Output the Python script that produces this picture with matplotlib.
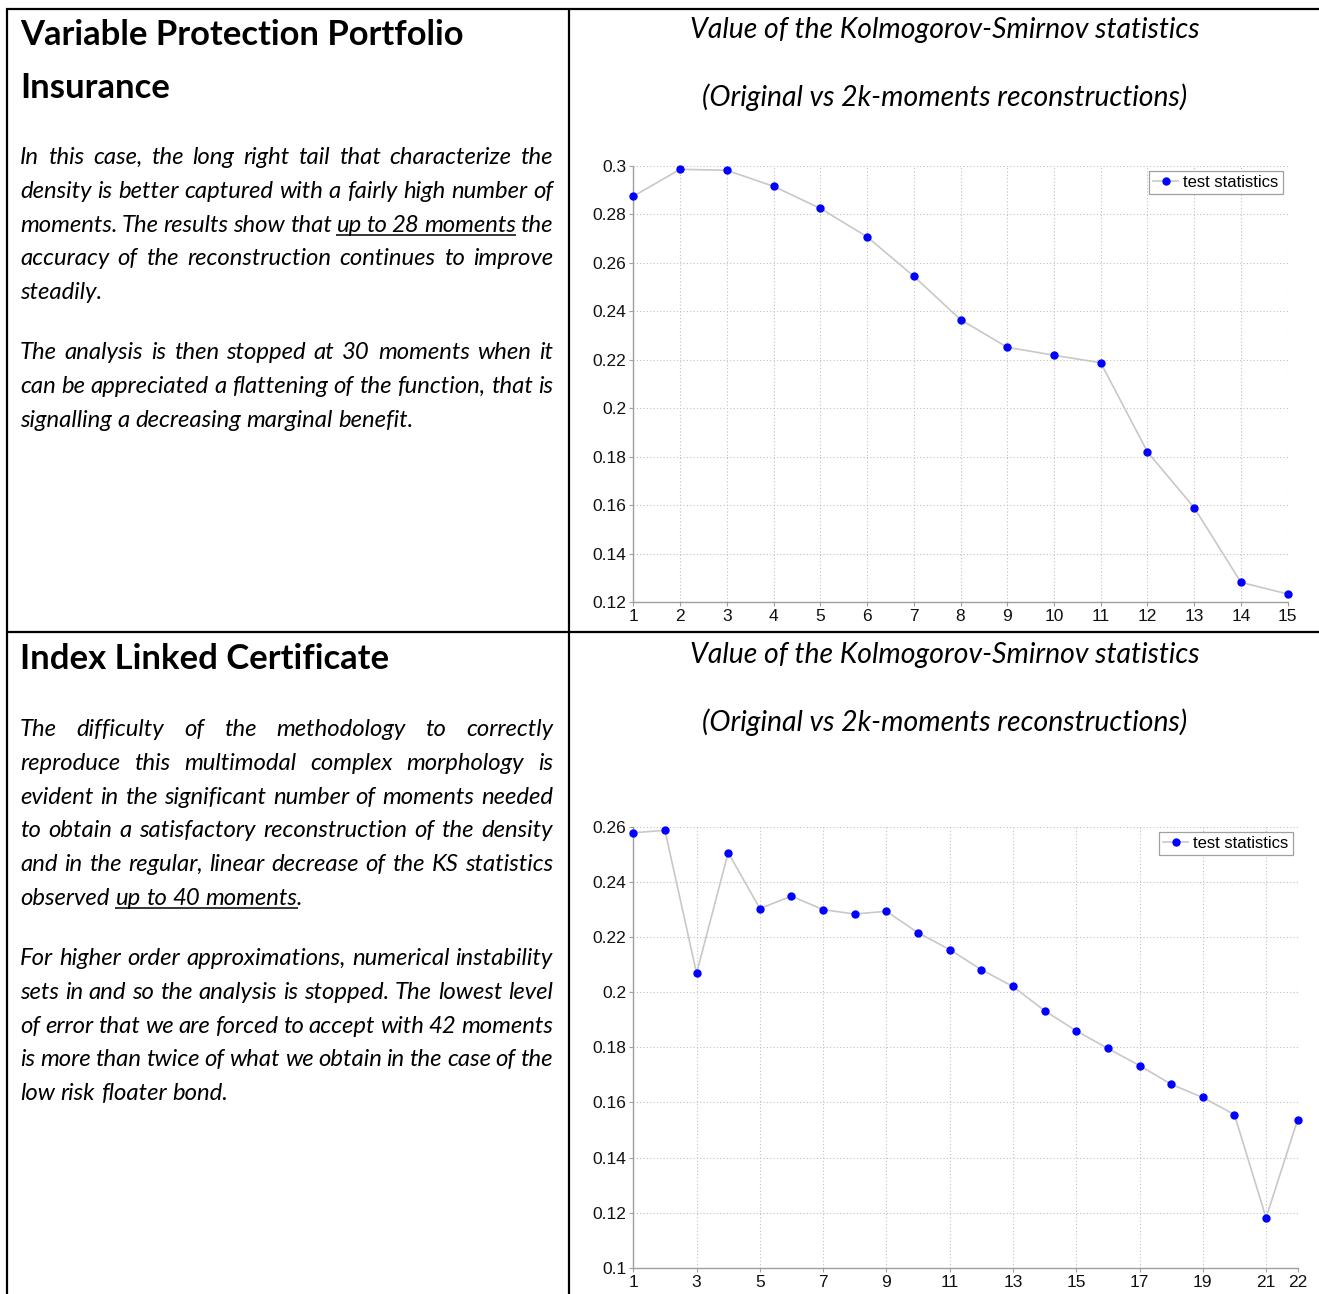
import matplotlib
matplotlib.use("Agg")
import matplotlib.pyplot as plt
from matplotlib.ticker import FuncFormatter

# ---------------- data ----------------
vppi_moments = list(range(1, 16))
vppi_ks = [0.2874, 0.2985, 0.2981, 0.2915, 0.2824, 0.2707, 0.2544, 0.2365,
           0.2251, 0.2218, 0.2187, 0.1819, 0.1589, 0.1281, 0.1233]
vppi_xticks = list(range(1, 16))
vppi_yticks = [0.12, 0.14, 0.16, 0.18, 0.20, 0.22, 0.24, 0.26, 0.28, 0.30]

ilc_moments = list(range(1, 23))
ilc_ks = [0.2579, 0.2588, 0.2069, 0.2507, 0.2304, 0.2349, 0.2300, 0.2284,
          0.2294, 0.2216, 0.2155, 0.2082, 0.2021, 0.1933, 0.1860, 0.1796,
          0.1734, 0.1666, 0.1618, 0.1556, 0.1181, 0.1538]
ilc_xticks = [1, 3, 5, 7, 9, 11, 13, 15, 17, 19, 21, 22]
ilc_yticks = [0.10, 0.12, 0.14, 0.16, 0.18, 0.20, 0.22, 0.24, 0.26]

series_label = "test statistics"
chart_title_1 = "Value of the Kolmogorov-Smirnov statistics"
chart_title_2 = "(Original vs 2k-moments reconstructions)"

head_top = ["Variable Protection Portfolio", "Insurance"]
body_top = [
    ("In this case, the long right tail that characterize the", True, None),
    ("density is better captured with a fairly high number of", True, None),
    ("moments. The results show that up to 28 moments the", True, "up to 28 moments"),
    ("accuracy of the reconstruction continues to improve", True, None),
    ("steadily.", False, None),
    None,
    ("The analysis is then stopped at 30 moments when it", True, None),
    ("can be appreciated a flattening of the function, that is", True, None),
    ("signalling a decreasing marginal benefit.", False, None),
]
head_bot = ["Index Linked Certificate"]
body_bot = [
    ("The difficulty of the methodology to correctly", True, None),
    ("reproduce this multimodal complex morphology is", True, None),
    ("evident in the significant number of moments needed", True, None),
    ("to obtain a satisfactory reconstruction of the density", True, None),
    ("and in the regular, linear decrease of the KS statistics", True, None),
    ("observed up to 40 moments.", False, "up to 40 moments"),
    None,
    ("For higher order approximations, numerical instability", True, None),
    ("sets in and so the analysis is stopped. The lowest level", True, None),
    ("of error that we are forced to accept with 42 moments", True, None),
    ("is more than twice of what we obtain in the case of the", True, None),
    ("low risk floater bond.", False, None),
]

# ---------------- figure ----------------
W, H = 1319, 1294
fig = plt.figure(figsize=(W / 100, H / 100), dpi=100)
fig.patch.set_facecolor("white")
bg = fig.add_axes([0, 0, 1, 1])
bg.set_xlim(0, W)
bg.set_ylim(H, 0)
bg.axis("off")
renderer = fig.canvas.get_renderer()

TXT = "Lato"
TICK = "Liberation Sans"


def tw(s, **kw):
    t = bg.text(0, 0, s, **kw)
    w = t.get_window_extent(renderer).width
    t.remove()
    return w


def fit(s, target, **kw):
    return 20 * target / tw(s, fontsize=20, **kw)


ital = dict(family=TXT, style="italic")
bold = dict(family=TXT, weight="bold")
fs_body = fit("signalling a decreasing marginal benefit.", 394, **ital)
fs_head = fit("Variable Protection Portfolio", 445, **bold)
fs_title = fit(chart_title_1, 509, **ital)


def body_line(text, y, justify, ul, x0=20, x1=553):
    kw = dict(fontsize=fs_body, va="baseline", ha="left", color="black", **ital)
    words = text.split(" ")
    ws = [tw(w, **kw) for w in words]
    if justify and len(words) > 1:
        gap = (x1 - x0 - sum(ws)) / (len(words) - 1)
    else:
        gap = tw("a b", **kw) - tw("ab", **kw)
    x = x0
    pos = []
    for w, wd in zip(words, ws):
        bg.text(x, y, w, **kw)
        pos.append(x)
        x += wd + gap
    if ul:
        uw = ul.split(" ")
        for i in range(len(words)):
            if words[i:i + len(uw) - 1] == uw[:-1] and words[i + len(uw) - 1].startswith(uw[-1]):
                xs = pos[i]
                j = i + len(uw) - 1
                xe = pos[j] + tw(uw[-1], **kw)
                bg.plot([xs, xe], [y + 3.5, y + 3.5], color="black", lw=1.1,
                        solid_capstyle="butt")
                break


def text_block(heads, head_y, lines, first_y, step=33.8, pgap=26.3):
    for h, yy in zip(heads, head_y):
        bg.text(20, yy, h, fontsize=fs_head, va="baseline", ha="left", **bold)
    y = first_y
    for ln in lines:
        if ln is None:
            y += pgap
            continue
        body_line(ln[0], y, ln[1], ln[2])
        y += step


text_block(head_top, [45, 98], body_top, 164)
text_block(head_bot, [669], body_bot, 736)

# chart titles
for y1, y2 in [(38, 106), (663, 731)]:
    bg.text(944.5, y1, chart_title_1, fontsize=fs_title, ha="center", va="baseline", **ital)
    bg.text(944.5, y2, chart_title_2, fontsize=fs_title, ha="center", va="baseline", **ital)

# table borders
blw = 1.6
for xs, ys in [([6, 1319], [9, 9]), ([7, 7], [9, 1294]), ([569, 569], [9, 1294]),
               ([7, 1319], [632, 632])]:
    bg.plot(xs, ys, color="black", lw=blw, clip_on=False, solid_capstyle="butt")


def chart(px, x, y, xticks, yticks):
    l, r, t, b = px
    ax = fig.add_axes([l / W, 1 - b / H, (r - l) / W, (b - t) / H])
    ax.plot(x, y, "-", color="#c8c8c8", lw=1.2, marker="o", ms=5.0,
            mfc="#0000ff", mec="#0000ff", label=series_label, clip_on=False, zorder=3)
    ax.set_xlim(x[0], x[-1])
    ax.set_ylim(yticks[0], yticks[-1])
    ax.set_xticks(xticks)
    ax.set_yticks(yticks)
    ax.yaxis.set_major_formatter(FuncFormatter(lambda v, p: "%g" % round(v, 4)))
    ax.grid(True, linestyle=(0, (1, 2)), color="#c0c0c0", lw=0.8)
    for s in ["top", "right"]:
        ax.spines[s].set_visible(False)
    for s in ["left", "bottom"]:
        ax.spines[s].set_color("#a0a0a0")
        ax.spines[s].set_linewidth(1.0)
    ax.tick_params(direction="out", length=3, color="#a0a0a0", labelsize=12.5,
                   pad=2, labelcolor="#111111")
    for lab in ax.get_xticklabels() + ax.get_yticklabels():
        lab.set_family(TICK)
    ax.set_facecolor("white")
    leg = ax.legend(loc="upper right", fancybox=False, framealpha=1,
                    edgecolor="#a0a0a0", borderaxespad=0.3, handlelength=1.5,
                    borderpad=0.25, handletextpad=0.3, prop={"family": TICK, "size": 12})
    leg.get_frame().set_linewidth(0.9)
    return ax


chart((633.3, 1287.7, 165.7, 602), vppi_moments, vppi_ks, vppi_xticks, vppi_yticks)
chart((633.3, 1297.7, 827, 1267.7), ilc_moments, ilc_ks, ilc_xticks, ilc_yticks)

fig.savefig("out.png", dpi=100, facecolor="white")
